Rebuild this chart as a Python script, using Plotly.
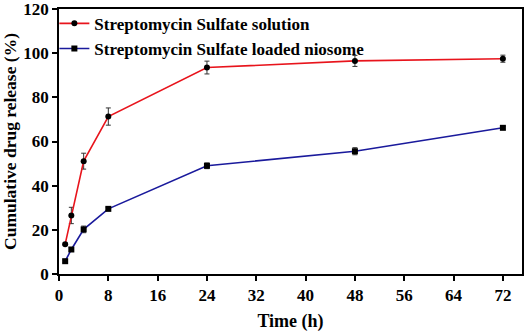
import plotly.graph_objects as go

time_h = [1, 2, 4, 8, 24, 48, 72]
solution = [13.5, 26.5, 51.1, 71.3, 93.5, 96.5, 97.5]
solution_err = [0.5, 3.7, 3.6, 3.9, 2.9, 2.5, 1.6]
niosome = [5.8, 11.1, 20.2, 29.5, 49.0, 55.6, 66.2]
niosome_err = [0.5, 0.8, 1.5, 0.6, 1.3, 1.6, 0.6]
x_ticks = [0, 8, 16, 24, 32, 40, 48, 56, 64, 72]
y_ticks = [0, 20, 40, 60, 80, 100, 120]

FONT = "Liberation Serif"

fig = go.Figure()
fig.add_trace(go.Scatter(
    x=time_h, y=solution, mode="lines+markers",
    name="Streptomycin Sulfate solution",
    line=dict(color="#e8141c", width=1.6),
    marker=dict(symbol="circle", size=6, color="black"),
    error_y=dict(type="data", array=solution_err, color="#333333", thickness=1, width=2.5),
))
fig.add_trace(go.Scatter(
    x=time_h, y=niosome, mode="lines+markers",
    name="Streptomycin Sulfate loaded niosome",
    line=dict(color="#1a1a9c", width=1.6),
    marker=dict(symbol="square", size=6, color="black"),
    error_y=dict(type="data", array=niosome_err, color="#333333", thickness=1, width=2.5),
))

axis_common = dict(
    showline=True, linecolor="black", linewidth=1.5, mirror=True,
    ticks="outside", ticklen=5, tickwidth=1.5, tickcolor="black",
    showgrid=False, zeroline=False, ticklabeloverflow="allow",
    tickfont=dict(family=FONT, size=17, color="black", weight="bold"),
)

fig.update_layout(
    width=526, height=332,
    margin=dict(l=59, r=4, t=9, b=58, autoexpand=False),
    paper_bgcolor="white", plot_bgcolor="white",
    xaxis=dict(range=[0, 75.1], tickvals=x_ticks,
               title=dict(text="Time (h)", font=dict(family=FONT, size=18, color="black", weight="bold"), standoff=10),
               **axis_common),
    yaxis=dict(range=[0, 120.01], tickvals=y_ticks,
               title=dict(text="Cumulative drug release (%)", font=dict(family=FONT, size=17.5, color="black", weight="bold"), standoff=2),
               **axis_common),
    legend=dict(x=-0.01, y=1.012, xanchor="left", yanchor="top",
                bgcolor="rgba(0,0,0,0)", itemwidth=30, tracegroupgap=0,
                font=dict(family=FONT, size=17, color="black", weight="bold")),
    showlegend=True,
)

fig.write_html("out.html", config={"displayModeBar": False},
               post_script="document.body.style.margin='0';")
